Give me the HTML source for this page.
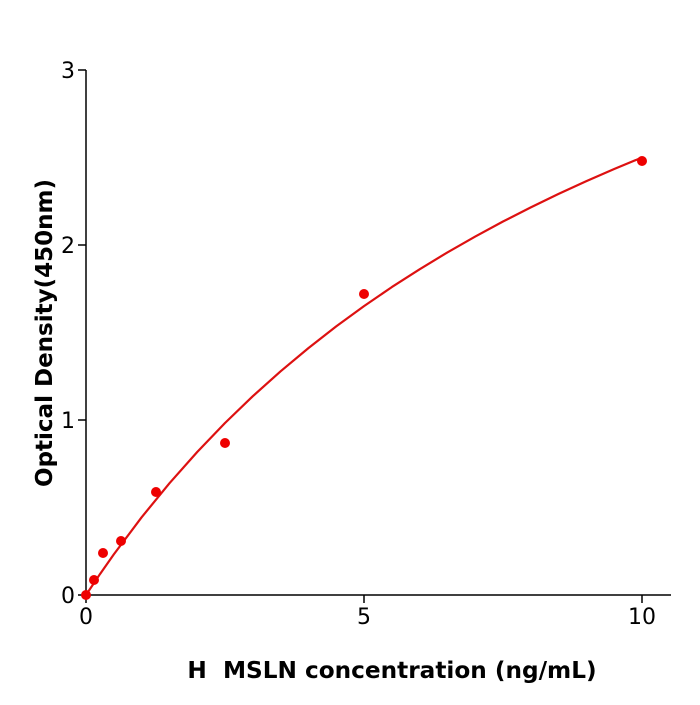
<!DOCTYPE html>
<html><head><style>body{margin:0;background:#fff}</style></head><body>
<svg width="700" height="700" xmlns="http://www.w3.org/2000/svg" font-family="DejaVu Sans, Liberation Sans, sans-serif">
<rect width="700" height="700" fill="#fff"/>
<g stroke="#000" stroke-width="1.5" fill="none">
<line x1="86" y1="70" x2="86" y2="596"/>
<line x1="85" y1="595" x2="671" y2="595"/>
<line x1="78" y1="595" x2="86" y2="595"/>
<line x1="78" y1="420" x2="86" y2="420"/>
<line x1="78" y1="245" x2="86" y2="245"/>
<line x1="78" y1="70" x2="86" y2="70"/>
<line x1="86" y1="595" x2="86" y2="603"/>
<line x1="364" y1="595" x2="364" y2="603"/>
<line x1="642" y1="595" x2="642" y2="603"/>
</g>
<g font-size="22" fill="#000" text-anchor="end">
<text x="75" y="603">0</text>
<text x="75" y="428">1</text>
<text x="75" y="253">2</text>
<text x="75" y="78">3</text>
</g>
<g font-size="22" fill="#000" text-anchor="middle">
<text x="86" y="624">0</text>
<text x="364" y="624">5</text>
<text x="642" y="624">10</text>
</g>
<text x="392" y="678" font-size="23.2" font-weight="bold" text-anchor="middle">H&#160; MSLN concentration (ng/mL)</text>
<text transform="translate(52,333) rotate(-90)" font-size="23" font-weight="bold" text-anchor="middle">Optical Density(450nm)</text>
<polyline fill="none" stroke="#d11" stroke-width="2.2" stroke-linejoin="round" points="86,595 99.9,574.2 113.8,554.4 141.6,517.3 169.4,483.3 197.2,452 225,423 252.8,396.2 280.6,371.3 308.4,348.1 336.2,326.4 364,306.1 391.8,287.1 419.6,269.3 447.4,252.4 475.2,236.6 503,221.5 530.8,207.4 558.6,193.9 586.4,181.1 614.2,169 642,157.5"/>
<g fill="#e00">
<circle cx="86" cy="595" r="5"/>
<circle cx="94" cy="580" r="5"/>
<circle cx="103" cy="553" r="5"/>
<circle cx="121" cy="541" r="5"/>
<circle cx="156" cy="492" r="5"/>
<circle cx="225" cy="443" r="5"/>
<circle cx="364" cy="294" r="5"/>
<circle cx="642" cy="161" r="5"/>
</g>
</svg>
</body></html>
